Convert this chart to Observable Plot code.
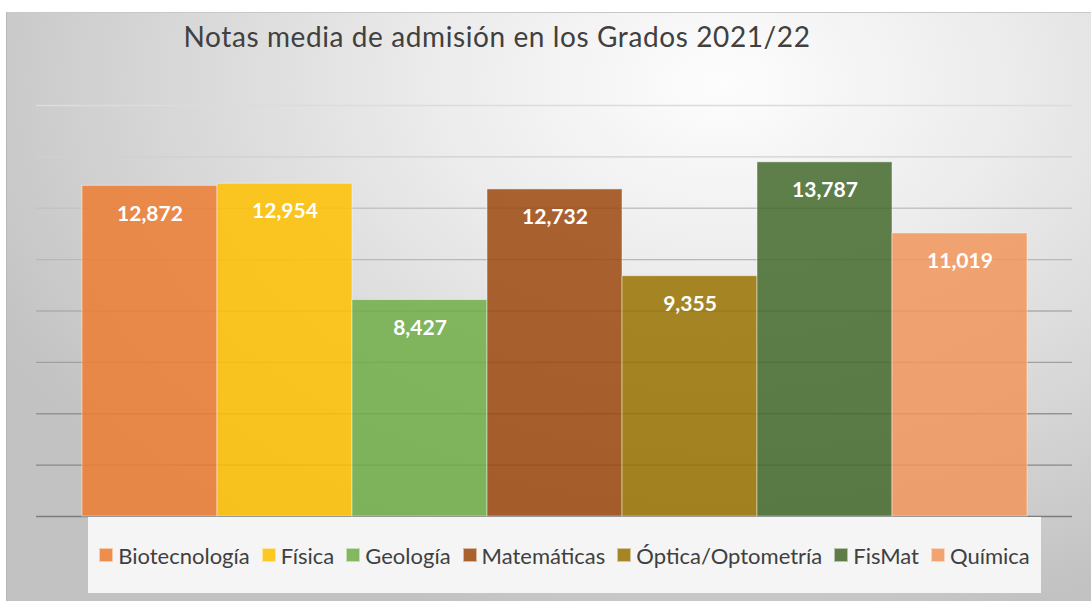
<!DOCTYPE html>
<html>
<head>
<meta charset="utf-8">
<script src="https://cdn.jsdelivr.net/npm/d3@7"></script>
<script src="https://cdn.jsdelivr.net/npm/@observablehq/plot@0.6"></script>
<style>
  html, body { margin: 0; padding: 0; background: #fff; }
  #wrap { position: relative; width: 1091px; height: 601px; overflow: hidden; background: #fff; font-family: Lato, "Open Sans", sans-serif; }
  #frame { position: absolute; left: 6px; top: 12px; width: 1085px; height: 589px;
    border-left: 1px solid #b8b8b8; border-top: 1px solid #c8c8c8; box-sizing: border-box;
    background: radial-gradient(ellipse 75% 95% at 66% 12%, #fdfdfd 0%, #ececec 35%, #d6d6d6 70%, #c2c2c2 100%); }
  #title { position: absolute; left: 0; top: 22px; width: 994px; text-align: center; font-size: 28px; letter-spacing: 0.6px; line-height: 28px; color: #404040; white-space: nowrap; }
  #chart { position: absolute; left: 0; top: 0; }
  #legend { position: absolute; left: 88px; top: 517px; width: 953px; height: 76px; background: #f5f5f5;
    display: flex; justify-content: center; align-items: center; font-size: 22px; color: #404040; }
  .item { display: flex; align-items: center; margin: 0 6px; white-space: nowrap; }
  .sw { width: 14px; height: 14px; margin-right: 5px; box-sizing: border-box; border: 1px solid rgba(255,255,255,0.55); opacity: 0.85; }
</style>
</head>
<body>
<div id="wrap">
  <div id="frame"></div>
  <div id="chart"></div>
  <div id="title"></div>
  <div id="legend"></div>
</div>
<script>
const titleText = "Notas media de admisión en los Grados 2021/22";
const categories = ["Biotecnología", "Física", "Geología", "Matemáticas", "Óptica/Optometría", "FisMat", "Química"];
const values = [12.872, 12.954, 8.427, 12.732, 9.355, 13.787, 11.019];
const colors = ["#ED7D31", "#FFC000", "#70AD47", "#9E480E", "#997300", "#43682B", "#F1975A"];
const gridTicks = [0, 2, 4, 6, 8, 10, 12, 14, 16];

const data = categories.map((c, i) => ({category: c, value: values[i], color: colors[i]}));
const gridColor = d3.scaleLinear().domain([0, 16]).range(["#7c7c7c", "#dcdcdc"]);
const fmt = v => v.toFixed(3).replace(".", ",");

document.getElementById("title").textContent = titleText;

const chart = Plot.plot({
  width: 1091,
  height: 517,
  marginLeft: 36,
  marginRight: 19,
  marginTop: 105,
  marginBottom: 1,
  style: {background: "transparent", overflow: "visible"},
  x: {domain: categories, paddingInner: 0, paddingOuter: 0.325, axis: null},
  y: {domain: [0, 16], axis: null},
  color: {type: "identity"},
  marks: [
    Plot.ruleY(gridTicks, {y: d => d, stroke: d => gridColor(d), strokeWidth: 1.4}),
    Plot.barY(data, {x: "category", y: "value", fill: "color", fillOpacity: 0.85, stroke: "white", strokeOpacity: 0.45, strokeWidth: 1, inset: 0}),
    Plot.text(data, {x: "category", y: "value", text: d => fmt(d.value), dy: 28, fill: "white", fontSize: 21, fontWeight: "bold", fontFamily: "Lato, 'Open Sans', sans-serif"})
  ]
});
document.getElementById("chart").appendChild(chart);

const legend = document.getElementById("legend");
data.forEach(d => {
  const it = document.createElement("div");
  it.className = "item";
  const sw = document.createElement("span");
  sw.className = "sw";
  sw.style.background = d.color;
  const tx = document.createElement("span");
  tx.textContent = d.category;
  it.appendChild(sw);
  it.appendChild(tx);
  legend.appendChild(it);
});
</script>
</body>
</html>
